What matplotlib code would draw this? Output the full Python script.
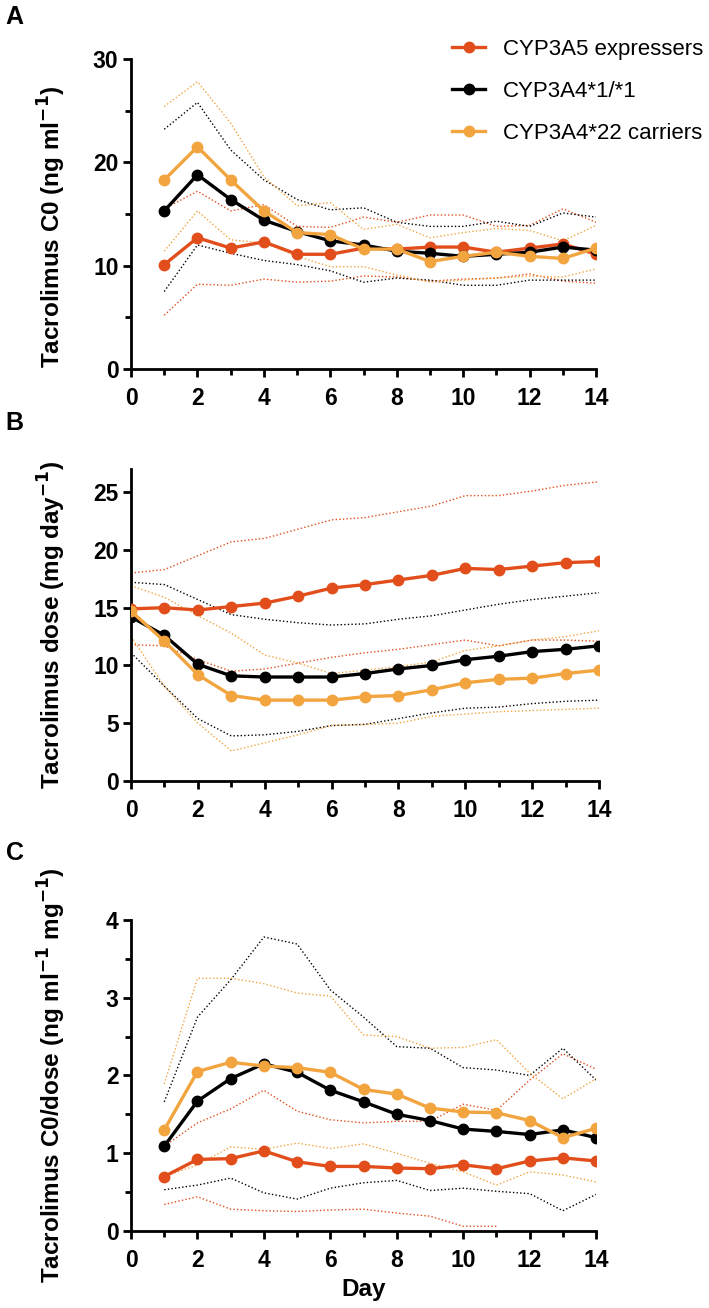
import matplotlib
matplotlib.use('Agg')
import matplotlib.pyplot as plt
from matplotlib.ticker import MultipleLocator

plt.rcParams['font.family'] = ['Liberation Sans', 'DejaVu Sans']

RED = '#E24E1B'
BLACK = '#000000'
ORANGE = '#F2A43F'

labels = ['CYP3A5 expressers', 'CYP3A4*1/*1', 'CYP3A4*22 carriers']

# panel A: tacrolimus C0, days 1-14
days_a = list(range(1, 15))
c0_red = [10.1, 12.7, 11.7, 12.3, 11.1, 11.1, 11.7, 11.6, 11.8, 11.8, 11.3, 11.7, 12.1, 11.1]
c0_black = [15.3, 18.8, 16.4, 14.4, 13.3, 12.4, 12.0, 11.4, 11.2, 10.9, 11.1, 11.3, 11.8, 11.5]
c0_orange = [18.3, 21.5, 18.3, 15.3, 13.2, 13.0, 11.6, 11.6, 10.4, 10.9, 11.3, 10.9, 10.7, 11.7]
c0_red_hi = [15.5, 17.2, 15.3, 15.9, 13.8, 13.7, 14.7, 14.2, 14.9, 14.9, 13.8, 13.9, 15.5, 14.2]
c0_red_lo = [5.2, 8.2, 8.1, 8.7, 8.4, 8.5, 9.0, 8.9, 8.5, 8.7, 8.8, 9.2, 8.5, 8.3]
c0_black_hi = [23.2, 25.8, 21.2, 18.3, 16.4, 15.4, 15.6, 14.2, 13.8, 13.8, 14.3, 13.8, 15.1, 14.7]
c0_black_lo = [7.5, 12.0, 11.2, 10.5, 10.1, 9.5, 8.4, 8.8, 8.6, 8.1, 8.1, 8.6, 8.6, 8.6]
c0_orange_hi = [25.4, 27.8, 23.8, 18.6, 15.8, 16.1, 13.5, 14.0, 12.7, 13.2, 13.6, 13.4, 12.4, 13.9]
c0_orange_lo = [11.4, 15.3, 12.5, 12.2, 10.9, 9.9, 9.9, 9.1, 8.4, 8.6, 8.8, 9.0, 8.9, 9.7]

# panel B: tacrolimus dose, days 0-14
days_b = list(range(0, 15))
dose_red = [14.9, 15.0, 14.8, 15.1, 15.4, 16.0, 16.7, 17.0, 17.4, 17.8, 18.4, 18.3, 18.6, 18.9, 19.0]
dose_black = [14.2, 12.6, 10.1, 9.1, 9.0, 9.0, 9.0, 9.3, 9.7, 10.0, 10.5, 10.8, 11.2, 11.4, 11.7]
dose_orange = [14.7, 12.1, 9.2, 7.4, 7.0, 7.0, 7.0, 7.3, 7.4, 7.9, 8.5, 8.8, 8.9, 9.3, 9.6]
dose_red_hi = [18.0, 18.3, 19.5, 20.7, 21.0, 21.8, 22.6, 22.8, 23.3, 23.8, 24.7, 24.7, 25.1, 25.6, 25.9]
dose_red_lo = [11.8, 11.7, 10.5, 9.5, 9.7, 10.2, 10.7, 11.1, 11.4, 11.8, 12.2, 11.7, 12.2, 12.2, 12.1]
dose_black_hi = [17.2, 17.0, 15.7, 14.4, 14.0, 13.7, 13.5, 13.6, 14.0, 14.3, 14.8, 15.3, 15.7, 16.0, 16.3]
dose_black_lo = [11.1, 8.2, 5.4, 3.9, 4.0, 4.3, 4.8, 4.9, 5.4, 5.9, 6.3, 6.4, 6.7, 6.9, 7.0]
dose_orange_hi = [16.9, 15.9, 14.3, 12.8, 10.9, 10.2, 9.3, 9.6, 9.9, 10.3, 11.3, 11.7, 12.2, 12.5, 13.0]
dose_orange_lo = [12.5, 8.2, 5.0, 2.6, 3.3, 4.0, 4.8, 4.9, 5.0, 5.6, 5.8, 6.0, 6.1, 6.2, 6.3]

# panel C: C0/dose, days 1-14
days_c = list(range(1, 15))
cd_red = [0.70, 0.92, 0.93, 1.03, 0.89, 0.83, 0.83, 0.81, 0.80, 0.85, 0.80, 0.90, 0.94, 0.90]
cd_black = [1.09, 1.67, 1.96, 2.15, 2.04, 1.81, 1.66, 1.50, 1.42, 1.31, 1.28, 1.24, 1.30, 1.20]
cd_orange = [1.30, 2.05, 2.17, 2.12, 2.10, 2.04, 1.82, 1.76, 1.58, 1.53, 1.52, 1.42, 1.20, 1.32]
cd_red_hi = [1.09, 1.39, 1.57, 1.81, 1.54, 1.43, 1.39, 1.41, 1.41, 1.63, 1.55, 1.94, 2.28, 2.08]
cd_red_lo = [0.34, 0.44, 0.28, 0.26, 0.25, 0.27, 0.28, 0.23, 0.19, 0.06, 0.06]
cd_black_hi = [1.66, 2.75, 3.23, 3.78, 3.69, 3.10, 2.75, 2.37, 2.35, 2.10, 2.07, 2.00, 2.35, 1.94]
cd_black_lo = [0.53, 0.59, 0.68, 0.49, 0.41, 0.55, 0.62, 0.65, 0.52, 0.55, 0.51, 0.48, 0.26, 0.47]
cd_orange_hi = [1.89, 3.25, 3.25, 3.18, 3.06, 3.02, 2.52, 2.50, 2.35, 2.36, 2.46, 2.03, 1.70, 1.96]
cd_orange_lo = [0.70, 0.85, 1.08, 1.05, 1.13, 1.06, 1.12, 1.00, 0.87, 0.76, 0.59, 0.76, 0.72, 0.63]


def style_axes(ax, ymax, ymajor, yminor):
    for side in ['top', 'right']:
        ax.spines[side].set_visible(False)
    for side in ['left', 'bottom']:
        ax.spines[side].set_linewidth(2.0)
    ax.set_xlim(0, 14)
    ax.set_ylim(0, ymax)
    ax.xaxis.set_major_locator(MultipleLocator(2))
    ax.xaxis.set_minor_locator(MultipleLocator(1))
    ax.yaxis.set_major_locator(MultipleLocator(ymajor))
    if yminor:
        ax.yaxis.set_minor_locator(MultipleLocator(yminor))
    ax.tick_params(which='major', length=6, width=2.0, labelsize=16.5, pad=3)
    ax.tick_params(axis='x', which='major', pad=7)
    ax.tick_params(which='minor', length=4, width=2.0)
    for lab in ax.get_xticklabels() + ax.get_yticklabels():
        lab.set_fontweight('bold')
    ax.patch.set_alpha(0)


def draw(ax, x, main, hi, lo, color, label):
    dot = (0, (1, 1.6))
    ax.plot(x[:len(hi)], hi, color=color, lw=1.0, ls=dot, zorder=2)
    ax.plot(x[:len(lo)], lo, color=color, lw=1.0, ls=dot, zorder=2)
    ax.plot(x, main, color=color, lw=2.4, marker='o', ms=7.5, label=label, zorder=3)


fig = plt.figure(figsize=(7.09, 13.08), dpi=100)

axA = fig.add_axes([0.1848, 0.7179, 0.656, 0.237])
draw(axA, days_a, c0_red, c0_red_hi, c0_red_lo, RED, labels[0])
draw(axA, days_a, c0_black, c0_black_hi, c0_black_lo, BLACK, labels[1])
draw(axA, days_a, c0_orange, c0_orange_hi, c0_orange_lo, ORANGE, labels[2])
style_axes(axA, 30, 10, 5)
axA.set_ylabel('Tacrolimus C0 (ng ml$^{\\mathbf{-1}}$)', fontsize=17.5, fontweight='bold')
axA.yaxis.set_label_coords(-0.135, 0.46)

axB = fig.add_axes([0.1848, 0.4029, 0.66, 0.2385])
draw(axB, days_b, dose_red, dose_red_hi, dose_red_lo, RED, labels[0])
draw(axB, days_b, dose_black, dose_black_hi, dose_black_lo, BLACK, labels[1])
draw(axB, days_b, dose_orange, dose_orange_hi, dose_orange_lo, ORANGE, labels[2])
style_axes(axB, 27, 5, None)
axB.set_ylabel('Tacrolimus dose (mg day$^{\\mathbf{-1}}$)', fontsize=17.5, fontweight='bold')
axB.yaxis.set_label_coords(-0.135, 0.5)

axC = fig.add_axes([0.1848, 0.0589, 0.656, 0.2378])
draw(axC, days_c, cd_red, cd_red_hi, cd_red_lo, RED, labels[0])
draw(axC, days_c, cd_black, cd_black_hi, cd_black_lo, BLACK, labels[1])
draw(axC, days_c, cd_orange, cd_orange_hi, cd_orange_lo, ORANGE, labels[2])
style_axes(axC, 4, 1, 0.5)
axC.set_ylabel('Tacrolimus C0/dose (ng ml$^{\\mathbf{-1}}$ mg$^{\\mathbf{-1}}$)', fontsize=17.5, fontweight='bold')
axC.yaxis.set_label_coords(-0.135, 0.5)
axC.set_xlabel('Day', fontsize=17.5, fontweight='bold', labelpad=4)

axA.legend(loc='upper left', bbox_to_anchor=(0.69, 1.066), frameon=False, fontsize=16,
           handlelength=1.5, handletextpad=0.8, labelspacing=0.95, borderpad=0, borderaxespad=0)

fig.text(0.008, 0.996, 'A', fontsize=18, fontweight='bold', va='top')
fig.text(0.008, 0.686, 'B', fontsize=18, fontweight='bold', va='top')
fig.text(0.008, 0.357, 'C', fontsize=18, fontweight='bold', va='top')

fig.savefig('out.png', dpi=100)
